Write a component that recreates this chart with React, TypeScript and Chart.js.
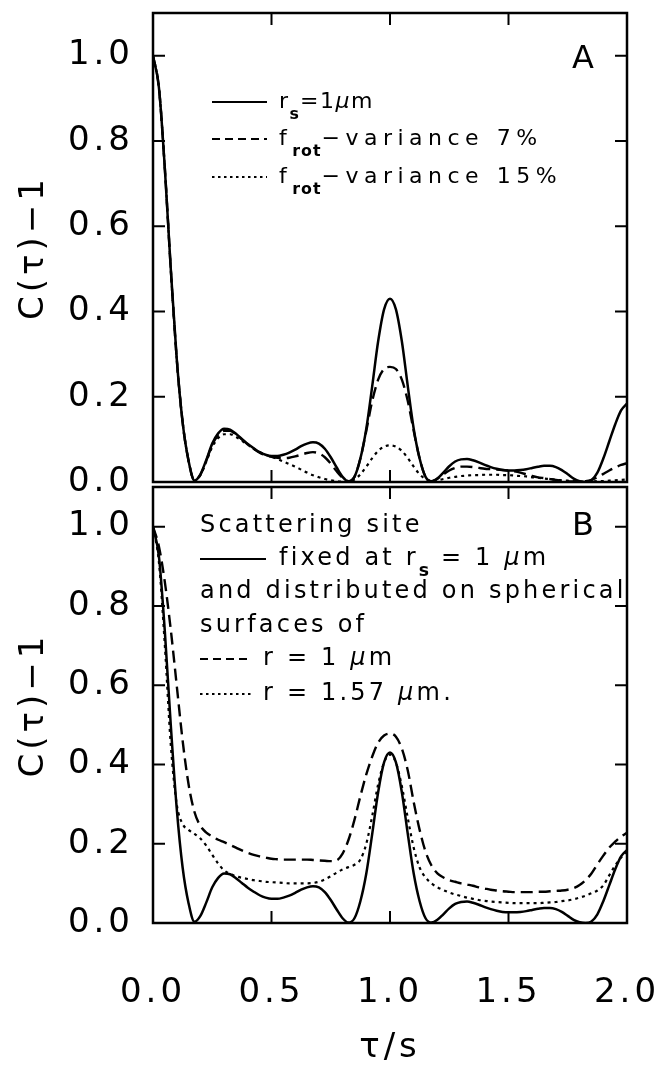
import React, { useEffect, useRef } from 'react';
import { Chart, registerables } from 'chart.js';

Chart.register(...registerables);

const FONT = "'DejaVu Sans', sans-serif";

// τ grid (s)
const TAU = [
  0.0, 0.025, 0.05, 0.075, 0.1, 0.125, 0.15, 0.175,
  0.2, 0.225, 0.25, 0.275, 0.3, 0.325, 0.35, 0.375,
  0.4, 0.425, 0.45, 0.475, 0.5, 0.525, 0.55, 0.575,
  0.6, 0.625, 0.65, 0.675, 0.7, 0.725, 0.75, 0.775,
  0.8, 0.825, 0.85, 0.875, 0.9, 0.925, 0.95, 0.975,
  1.0, 1.025, 1.05, 1.075, 1.1, 1.125, 1.15, 1.175,
  1.2, 1.225, 1.25, 1.275, 1.3, 1.325, 1.35, 1.375,
  1.4, 1.425, 1.45, 1.475, 1.5, 1.525, 1.55, 1.575,
  1.6, 1.625, 1.65, 1.675, 1.7, 1.725, 1.75, 1.775,
  1.8, 1.825, 1.85, 1.875, 1.9, 1.925, 1.95, 1.975,
  2.0,
];

// Panel A / B solid: scattering site fixed at r_s = 1 µm
const FIXED_RS1 = [
  1.0, 0.925, 0.735, 0.5, 0.29, 0.14, 0.05, 0.003,
  0.018, 0.052, 0.09, 0.114, 0.125, 0.123, 0.113, 0.101,
  0.089, 0.079, 0.07, 0.064, 0.061, 0.061, 0.064, 0.069,
  0.076, 0.084, 0.09, 0.093, 0.09, 0.078, 0.058, 0.034,
  0.012, 0.001, 0.012, 0.055, 0.125, 0.225, 0.33, 0.405,
  0.43, 0.405, 0.33, 0.225, 0.125, 0.055, 0.012, 0.001,
  0.008, 0.022, 0.037, 0.048, 0.053, 0.054, 0.051, 0.046,
  0.04, 0.035, 0.031, 0.028, 0.027, 0.027, 0.028, 0.03,
  0.033, 0.036, 0.038, 0.038, 0.035, 0.028, 0.018, 0.008,
  0.002, 0.0, 0.004, 0.022, 0.055, 0.095, 0.135, 0.168,
  0.184,
];

// Panel A dashed: f_rot variance 7 %
const FROT_VAR7 = [
  1.0, 0.925, 0.735, 0.5, 0.29, 0.14, 0.05, 0.004,
  0.017, 0.05, 0.088, 0.11, 0.12, 0.12, 0.111, 0.1,
  0.088, 0.078, 0.069, 0.063, 0.059, 0.057, 0.056, 0.057,
  0.06, 0.064, 0.068, 0.07, 0.067, 0.058, 0.043, 0.025,
  0.01, 0.002, 0.012, 0.055, 0.12, 0.19, 0.24, 0.265,
  0.27, 0.265, 0.24, 0.19, 0.12, 0.055, 0.012, 0.002,
  0.008, 0.018, 0.027, 0.033, 0.036, 0.036, 0.035, 0.033,
  0.031, 0.03, 0.029, 0.028, 0.027, 0.025, 0.022, 0.018,
  0.014, 0.011, 0.009, 0.007, 0.005, 0.003, 0.002, 0.001,
  0.001, 0.002, 0.005, 0.011, 0.019, 0.027, 0.034, 0.04,
  0.044,
];

// Panel A dotted: f_rot variance 15 %
const FROT_VAR15 = [
  1.0, 0.925, 0.735, 0.5, 0.29, 0.14, 0.05, 0.004,
  0.016, 0.048, 0.082, 0.103, 0.112, 0.112, 0.106, 0.097,
  0.087, 0.078, 0.07, 0.064, 0.059, 0.054, 0.048, 0.042,
  0.036, 0.029, 0.022, 0.016, 0.011, 0.007, 0.004, 0.002,
  0.001, 0.002, 0.006, 0.018, 0.036, 0.056, 0.073, 0.083,
  0.086, 0.083, 0.073, 0.056, 0.036, 0.018, 0.007, 0.003,
  0.004, 0.007, 0.01, 0.012, 0.014, 0.015, 0.016, 0.016,
  0.017, 0.017, 0.017, 0.016, 0.016, 0.015, 0.014, 0.013,
  0.011, 0.01, 0.008, 0.007, 0.005, 0.004, 0.003, 0.002,
  0.001, 0.001, 0.001, 0.002, 0.002, 0.003, 0.004, 0.005,
  0.006,
];

// Panel B dashed: distributed on spherical surface r = 1 µm
const SPHERE_R1 = [
  1.0, 0.95, 0.86, 0.74, 0.6, 0.46, 0.35, 0.28,
  0.245, 0.228, 0.218, 0.21, 0.204, 0.197, 0.19, 0.183,
  0.177, 0.172, 0.168, 0.165, 0.162, 0.161, 0.16, 0.16,
  0.16, 0.16, 0.16, 0.159, 0.158, 0.157, 0.156, 0.158,
  0.175, 0.21, 0.26, 0.32, 0.375, 0.42, 0.455, 0.473,
  0.478, 0.47, 0.44, 0.385, 0.305, 0.235, 0.18, 0.145,
  0.125, 0.115, 0.108, 0.104, 0.1, 0.097, 0.094, 0.09,
  0.087, 0.084, 0.082, 0.08, 0.079, 0.078, 0.078, 0.078,
  0.078, 0.079, 0.079, 0.08, 0.081, 0.082, 0.084, 0.088,
  0.096, 0.108, 0.125, 0.148, 0.17, 0.19, 0.205, 0.218,
  0.228,
];

// Panel B dotted: distributed on spherical surface r = 1.57 µm
const SPHERE_R157 = [
  1.0, 0.91, 0.7, 0.45, 0.3, 0.25, 0.235, 0.225,
  0.213, 0.195, 0.172, 0.15, 0.133, 0.124, 0.118, 0.114,
  0.111, 0.108, 0.106, 0.104, 0.103, 0.102, 0.101, 0.1,
  0.1, 0.1, 0.1, 0.101, 0.104, 0.11, 0.118, 0.127,
  0.135, 0.141, 0.147, 0.16, 0.2, 0.27, 0.35, 0.405,
  0.425, 0.405, 0.345, 0.265, 0.19, 0.14, 0.115, 0.1,
  0.09, 0.083, 0.077, 0.072, 0.068, 0.064, 0.061, 0.058,
  0.056, 0.054, 0.053, 0.052, 0.051, 0.05, 0.05, 0.05,
  0.05, 0.05, 0.051, 0.052, 0.053, 0.055, 0.057, 0.06,
  0.064, 0.069, 0.075, 0.082, 0.095, 0.12, 0.145, 0.165,
  0.18,
];

const X_TICKS = [0, 0.5, 1.0, 1.5, 2.0];
const Y_TICKS = [0, 0.2, 0.4, 0.6, 0.8, 1.0];
const Y_TITLE = 'C(τ)−1';
const X_TITLE = 'τ/s';

type Seg = { t: string; sub?: boolean; it?: boolean };

const LEGEND_A: Seg[][] = [
  [{ t: 'r' }, { t: 's', sub: true }, { t: '=1' }, { t: 'μ', it: true }, { t: 'm' }],
  [{ t: 'f' }, { t: 'rot', sub: true }, { t: '−variance 7%' }],
  [{ t: 'f' }, { t: 'rot', sub: true }, { t: '−variance 15%' }],
];

const LEGEND_B: Seg[][] = [
  [{ t: 'Scattering site' }],
  [{ t: 'fixed at r' }, { t: 's', sub: true }, { t: ' = 1 ' }, { t: 'μ', it: true }, { t: 'm' }],
  [{ t: 'and distributed on spherical' }],
  [{ t: 'surfaces of' }],
  [{ t: 'r = 1 ' }, { t: 'μ', it: true }, { t: 'm' }],
  [{ t: 'r = 1.57 ' }, { t: 'μ', it: true }, { t: 'm.' }],
];

const DASH = [12, 6];
const DOT = [3, 4];

function pts(ys: number[]) {
  return TAU.map((x, i) => ({ x, y: ys[i] }));
}

function ds(label: string, ys: number[], dash: number[], width: number) {
  return {
    label,
    data: pts(ys),
    borderColor: '#000',
    backgroundColor: '#000',
    borderWidth: width,
    borderDash: dash,
    pointRadius: 0,
    fill: false,
    cubicInterpolationMode: 'monotone' as const,
  };
}

const framePlugin = {
  id: 'frameTicks',
  beforeDraw(chart: any) {
    (chart.ctx as any).letterSpacing = '4px';
  },
  afterDatasetsDraw(chart: any) {
    const { ctx, chartArea } = chart;
    const { left, right, top, bottom } = chartArea;
    const x = chart.scales.x;
    const y = chart.scales.y;
    const tl = 12;
    ctx.save();
    ctx.strokeStyle = '#000';
    ctx.lineWidth = 2.5;
    ctx.setLineDash([]);
    ctx.strokeRect(left, top, right - left, bottom - top);
    ctx.lineWidth = 2;
    ctx.beginPath();
    for (const t of x.ticks) {
      const px = x.getPixelForValue(t.value);
      if (px <= left + 2 || px >= right - 2) continue;
      ctx.moveTo(px, bottom);
      ctx.lineTo(px, bottom - tl);
      ctx.moveTo(px, top);
      ctx.lineTo(px, top + tl);
    }
    for (const t of y.ticks) {
      const py = y.getPixelForValue(t.value);
      if (py <= top + 2 || py >= bottom - 2) continue;
      ctx.moveTo(left, py);
      ctx.lineTo(left + tl, py);
      ctx.moveTo(right, py);
      ctx.lineTo(right - tl, py);
    }
    ctx.stroke();
    ctx.restore();
  },
};

const legendPlugin = {
  id: 'richLegend',
  afterDraw(chart: any, _args: any, opts: any) {
    if (!opts || !opts.rows) return;
    const ctx = chart.ctx as any;
    ctx.save();
    ctx.fillStyle = '#000';
    ctx.strokeStyle = '#000';
    ctx.textAlign = 'left';
    ctx.textBaseline = 'alphabetic';
    for (const r of opts.rows) {
      if (r.ds !== undefined) {
        const d = chart.data.datasets[r.ds];
        ctx.setLineDash(d.borderDash && d.borderDash.length ? [8, 5].map((v, i) => (d.borderDash[0] < 5 ? [2.5, 3.5][i] : v)) : []);
        ctx.lineWidth = 2;
        ctx.beginPath();
        ctx.moveTo(r.x1, r.y - 6);
        ctx.lineTo(r.x2, r.y - 6);
        ctx.stroke();
      }
      let cx = r.x;
      for (const s of r.segs as Seg[]) {
        const size = s.sub ? opts.size * 0.72 : opts.size;
        ctx.font = `${s.it ? 'italic ' : ''}${s.sub ? 'bold ' : ''}${size}px ${FONT}`;
        ctx.letterSpacing = `${s.sub ? 1 : r.ls}px`;
        ctx.fillText(s.t, cx, s.sub ? r.y + opts.subDy : r.y);
        cx += ctx.measureText(s.t).width;
      }
    }
    ctx.setLineDash([]);
    ctx.letterSpacing = '0px';
    ctx.font = `${opts.letterSize}px ${FONT}`;
    ctx.textAlign = 'center';
    ctx.fillText(opts.letter, opts.letterX, opts.letterY);
    ctx.restore();
  },
};

function noPad(s: any) {
  s.paddingTop = 0;
  s.paddingBottom = 0;
  s.paddingLeft = 0;
  s.paddingRight = 0;
}

function yScale() {
  return {
    type: 'linear' as const,
    min: 0,
    max: 1.1,
    afterFit: (s: any) => {
      s.width = 153;
      noPad(s);
    },
    afterBuildTicks: (s: any) => {
      s.ticks = Y_TICKS.map((v) => ({ value: v }));
    },
    grid: { display: false, drawTicks: false },
    border: { display: false },
    ticks: {
      color: '#000',
      padding: 19,
      font: { family: FONT, size: 34 },
      callback: (v: any) => Number(v).toFixed(1),
    },
    title: {
      display: true,
      text: Y_TITLE,
      color: '#000',
      font: { family: FONT, size: 34 },
      padding: { top: 14, bottom: 0 },
    },
  };
}

function xScale(showLabels: boolean) {
  return {
    type: 'linear' as const,
    min: 0,
    max: 2,
    display: showLabels,
    afterFit: (s: any) => {
      s.height = showLabels ? 144 : 0;
      noPad(s);
    },
    afterBuildTicks: (s: any) => {
      s.ticks = X_TICKS.map((v) => ({ value: v }));
    },
    grid: { display: false, drawTicks: false },
    border: { display: false },
    ticks: {
      color: '#000',
      padding: 50,
      maxRotation: 0,
      font: { family: FONT, size: 34 },
      callback: (v: any) => Number(v).toFixed(1),
    },
    title: {
      display: showLabels,
      text: X_TITLE,
      color: '#000',
      font: { family: FONT, size: 34 },
      padding: { top: 0, bottom: -2 },
    },
  };
}

export default function App() {
  const topRef = useRef<HTMLCanvasElement | null>(null);
  const botRef = useRef<HTMLCanvasElement | null>(null);

  useEffect(() => {
    const top = new Chart(topRef.current as HTMLCanvasElement, {
      type: 'line',
      data: {
        datasets: [
          ds('r_s=1µm', FIXED_RS1, [], 2.5),
          ds('f_rot-variance 7%', FROT_VAR7, DASH, 2.4),
          ds('f_rot-variance 15%', FROT_VAR15, DOT, 2.2),
        ],
      },
      options: {
        responsive: false,
        animation: false,
        devicePixelRatio: 1,
        layout: { padding: { left: 0, right: 31, top: 13, bottom: 18 } },
        scales: { x: xScale(false), y: yScale() } as any,
        plugins: {
          legend: { display: false },
          tooltip: { enabled: false },
          richLegend: {
            size: 22,
            subDy: 11,
            letter: 'A',
            letterSize: 32,
            letterX: 583,
            letterY: 68,
            rows: [
              { ds: 0, x1: 212, x2: 267, x: 279, y: 108, ls: 1.5, segs: LEGEND_A[0] },
              { ds: 1, x1: 212, x2: 267, x: 279, y: 145, ls: 5.5, segs: LEGEND_A[1] },
              { ds: 2, x1: 212, x2: 267, x: 279, y: 183, ls: 5.5, segs: LEGEND_A[2] },
            ],
          },
        } as any,
      },
      plugins: [framePlugin, legendPlugin],
    });

    const bot = new Chart(botRef.current as HTMLCanvasElement, {
      type: 'line',
      data: {
        datasets: [
          ds('fixed at r_s = 1 µm', FIXED_RS1, [], 2.5),
          ds('r = 1 µm', SPHERE_R1, DASH, 2.4),
          ds('r = 1.57 µm.', SPHERE_R157, DOT, 2.2),
        ],
      },
      options: {
        responsive: false,
        animation: false,
        devicePixelRatio: 1,
        layout: { padding: { left: 0, right: 31, top: 3, bottom: 0 } },
        scales: { x: xScale(true), y: yScale() } as any,
        plugins: {
          legend: { display: false },
          tooltip: { enabled: false },
          richLegend: {
            size: 24,
            subDy: 11,
            letter: 'B',
            letterSize: 32,
            letterX: 583,
            letterY: 51,
            rows: [
              { x: 200, y: 48, ls: 3.2, segs: LEGEND_B[0] },
              { ds: 0, x1: 200, x2: 266, x: 279, y: 81, ls: 3.2, segs: LEGEND_B[1] },
              { x: 200, y: 114, ls: 3.2, segs: LEGEND_B[2] },
              { x: 200, y: 148, ls: 3.2, segs: LEGEND_B[3] },
              { ds: 1, x1: 200, x2: 252, x: 263, y: 181, ls: 3.2, segs: LEGEND_B[4] },
              { ds: 2, x1: 200, x2: 252, x: 263, y: 216, ls: 3.2, segs: LEGEND_B[5] },
            ],
          },
        } as any,
      },
      plugins: [framePlugin, legendPlugin],
    });

    return () => {
      top.destroy();
      bot.destroy();
    };
  }, []);

  return (
    <div style={{ position: 'absolute', left: 0, top: 0, width: 658, height: 1067, background: '#fff' }}>
      <canvas
        ref={botRef}
        width={658}
        height={583}
        style={{ position: 'absolute', left: 0, top: 484, width: 658, height: 583, display: 'block' }}
      />
      <canvas
        ref={topRef}
        width={658}
        height={500}
        style={{ position: 'absolute', left: 0, top: 0, width: 658, height: 500, display: 'block' }}
      />
    </div>
  );
}
